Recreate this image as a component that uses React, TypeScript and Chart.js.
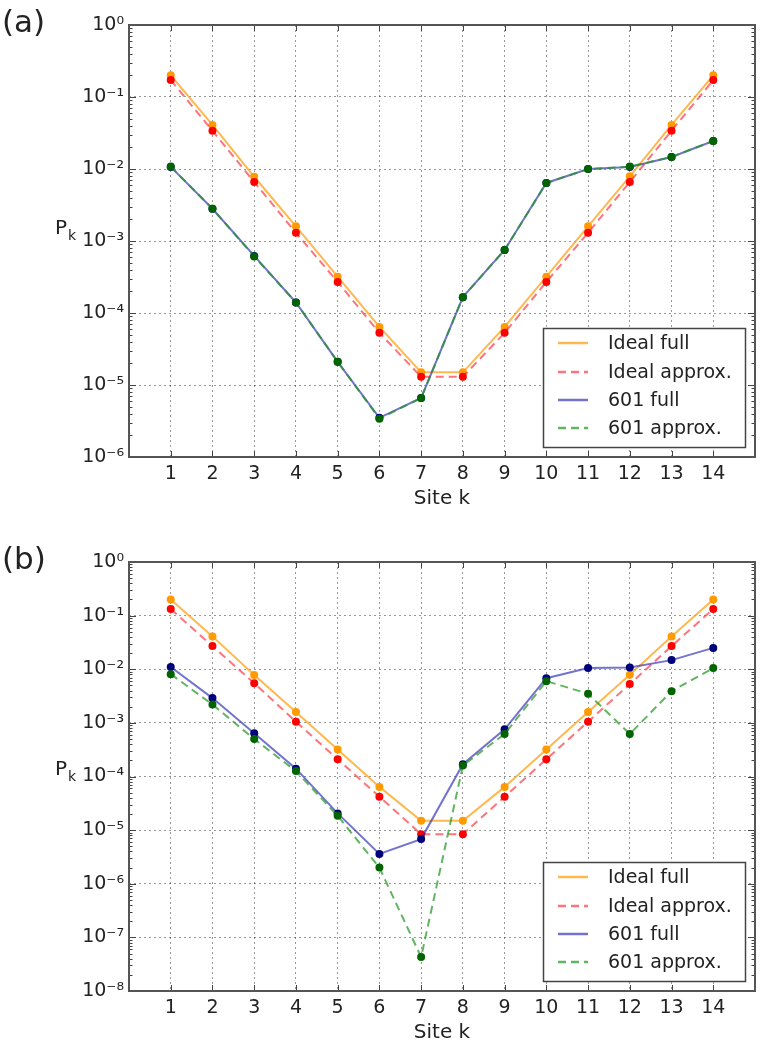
import React, { useEffect, useRef } from 'react';
import { Chart, registerables } from 'chart.js';

Chart.register(...registerables);

const FONT = "'DejaVu Sans', 'Liberation Sans', sans-serif";

// ---- data ----
const sites = [1, 2, 3, 4, 5, 6, 7, 8, 9, 10, 11, 12, 13, 14];
const xTickLabels = ['1', '2', '3', '4', '5', '6', '7', '8', '9', '10', '11', '12', '13', '14'];
const seriesNames = ['Ideal full', 'Ideal approx.', '601 full', '601 approx.'];

const yTicksA = [1e-6, 1e-5, 1e-4, 1e-3, 1e-2, 1e-1, 1];
const yTickLabelsA = ['10⁻⁶', '10⁻⁵', '10⁻⁴', '10⁻³', '10⁻²', '10⁻¹', '10⁰'];
const yTicksB = [1e-8, 1e-7, 1e-6, 1e-5, 1e-4, 1e-3, 1e-2, 1e-1, 1];
const yTickLabelsB = ['10⁻⁸', '10⁻⁷', '10⁻⁶', '10⁻⁵', '10⁻⁴', '10⁻³', '10⁻²', '10⁻¹', '10⁰'];

// panel (a)
const idealFullA = [0.2, 0.041, 0.0078, 0.0016, 3.2e-4, 6.4e-5, 1.5e-5, 1.5e-5, 6.4e-5, 3.2e-4, 1.6e-3, 7.9e-3, 0.041, 0.2];
const idealApproxA = [0.172, 0.034, 6.6e-3, 1.3e-3, 2.7e-4, 5.3e-5, 1.3e-5, 1.3e-5, 5.3e-5, 2.7e-4, 1.3e-3, 6.6e-3, 0.034, 0.172];
const chip601FullA = [0.0107, 2.8e-3, 6.2e-4, 1.4e-4, 2.1e-5, 3.5e-6, 6.6e-6, 1.66e-4, 7.5e-4, 6.4e-3, 0.01, 0.0107, 0.0147, 0.0245];
const chip601ApproxA = [0.0108, 2.8e-3, 6.1e-4, 1.4e-4, 2.1e-5, 3.4e-6, 6.6e-6, 1.66e-4, 7.5e-4, 6.4e-3, 0.01, 0.0108, 0.0147, 0.0245];

// panel (b)
const idealFullB = [0.2, 0.041, 0.0078, 0.0016, 3.2e-4, 6.4e-5, 1.5e-5, 1.5e-5, 6.4e-5, 3.2e-4, 1.6e-3, 7.9e-3, 0.041, 0.2];
const idealApproxB = [0.133, 0.027, 5.5e-3, 1.05e-3, 2.1e-4, 4.2e-5, 8.4e-6, 8.4e-6, 4.2e-5, 2.1e-4, 1.05e-3, 5.3e-3, 0.027, 0.133];
const chip601FullB = [0.011, 2.9e-3, 6.4e-4, 1.4e-4, 2.05e-5, 3.6e-6, 6.8e-6, 1.7e-4, 7.6e-4, 6.8e-3, 0.0105, 0.0108, 0.0148, 0.025];
const chip601ApproxB = [8.1e-3, 2.2e-3, 5e-4, 1.26e-4, 1.85e-5, 2e-6, 4.3e-8, 1.6e-4, 6.2e-4, 6e-3, 3.5e-3, 6.2e-4, 3.9e-3, 0.0105];

// ---- styles ----
const lineColors = ['rgba(255,160,20,0.75)', 'rgba(255,40,50,0.65)', 'rgba(40,40,180,0.65)', 'rgba(30,150,30,0.7)'];
const pointColors = ['#ff9a00', '#ff0000', '#00007a', '#006400'];
const dashes: number[][] = [[], [8, 5], [], [8, 5]];

type PanelCfg = {
  label: string;
  height: number;
  padTop: number;
  xAxisH: number;
  titlePad: number;
  yMin: number;
  yTicks: number[];
  yTickLabels: string[];
  series: number[][];
  pkBaselineOffset: number;
};

function makeDecor(cfg: PanelCfg) {
  return {
    id: 'decor' + cfg.label,
    afterDraw(chart: any) {
      const ctx: CanvasRenderingContext2D = chart.ctx;
      const { left, right, top, bottom } = chart.chartArea;
      const ys = chart.scales.y;
      const xs = chart.scales.x;
      ctx.save();
      ctx.setLineDash([]);
      ctx.strokeStyle = '#444';
      ctx.lineWidth = 1;
      // y ticks (major and minor) inward, both sides
      const minExp = Math.round(Math.log10(cfg.yMin));
      for (let e = minExp; e <= 0; e++) {
        const py = Math.round(ys.getPixelForValue(Math.pow(10, e))) + 0.5;
        ctx.beginPath();
        ctx.moveTo(left, py); ctx.lineTo(left + 7, py);
        ctx.moveTo(right, py); ctx.lineTo(right - 7, py);
        ctx.stroke();
        if (e < 0) {
          for (let m = 2; m <= 9; m++) {
            const pm = Math.round(ys.getPixelForValue(m * Math.pow(10, e))) + 0.5;
            ctx.beginPath();
            ctx.moveTo(left, pm); ctx.lineTo(left + 3.5, pm);
            ctx.moveTo(right, pm); ctx.lineTo(right - 3.5, pm);
            ctx.stroke();
          }
        }
      }
      // x ticks inward top and bottom
      for (const k of sites) {
        const px = Math.round(xs.getPixelForValue(k)) + 0.5;
        ctx.beginPath();
        ctx.moveTo(px, bottom); ctx.lineTo(px, bottom - 6);
        ctx.moveTo(px, top); ctx.lineTo(px, top + 6);
        ctx.stroke();
      }
      // frame
      ctx.strokeStyle = '#555';
      ctx.lineWidth = 2;
      ctx.strokeRect(left, top, right - left, bottom - top);

      // P_k label
      const midY = (top + bottom) / 2;
      ctx.fillStyle = '#222';
      ctx.textAlign = 'left';
      ctx.textBaseline = 'alphabetic';
      ctx.font = `20px ${FONT}`;
      ctx.fillText('P', 55, midY + cfg.pkBaselineOffset);
      ctx.font = `14px ${FONT}`;
      ctx.fillText('k', 68, midY + cfg.pkBaselineOffset + 6);

      // panel label
      ctx.font = `31px ${FONT}`;
      ctx.textBaseline = 'middle';
      ctx.fillText(cfg.label, 2, top - 1);

      // legend
      const bw = 202, bh = 119;
      const bx = right - 10 - bw;
      const by = bottom - 10 - bh;
      ctx.fillStyle = '#fff';
      ctx.fillRect(bx, by, bw, bh);
      ctx.strokeStyle = '#444';
      ctx.lineWidth = 1.5;
      ctx.strokeRect(bx + 0.5, by + 0.5, bw, bh);
      const rows = [15, 44, 72, 100];
      ctx.font = `19px ${FONT}`;
      ctx.textBaseline = 'middle';
      chart.data.datasets.forEach((ds: any, i: number) => {
        const ry = by + rows[i];
        ctx.strokeStyle = ds.borderColor;
        ctx.lineWidth = 2.5;
        ctx.setLineDash(ds.borderDash || []);
        ctx.beginPath();
        ctx.moveTo(bx + 15, ry); ctx.lineTo(bx + 45, ry);
        ctx.stroke();
        ctx.setLineDash([]);
        ctx.fillStyle = '#222';
        ctx.fillText(ds.label, bx + 65, ry + 1);
      });
      ctx.restore();
    },
  };
}

function Panel({ cfg }: { cfg: PanelCfg }) {
  const ref = useRef<HTMLCanvasElement | null>(null);
  useEffect(() => {
    if (!ref.current) return;
    const n = cfg.series.length;
    const datasets = cfg.series.map((vals, i) => ({
      label: seriesNames[i],
      data: sites.map((k, j) => ({ x: k, y: vals[j] })),
      order: n - i,
      borderColor: lineColors[i],
      borderWidth: 2,
      borderDash: dashes[i],
      pointRadius: 4,
      pointBorderWidth: 0,
      pointBackgroundColor: pointColors[i],
      pointBorderColor: pointColors[i],
      fill: false,
      tension: 0,
    }));
    const chart = new Chart(ref.current, {
      type: 'line',
      data: { datasets },
      plugins: [makeDecor(cfg)],
      options: {
        animation: false,
        responsive: false,
        devicePixelRatio: 1,
        layout: { padding: { top: cfg.padTop, right: 9, left: 0, bottom: 0 } },
        plugins: { legend: { display: false }, tooltip: { enabled: false } },
        scales: {
          x: {
            type: 'linear',
            min: 0,
            max: 15,
            afterBuildTicks: (s: any) => { s.ticks = sites.map((v) => ({ value: v })); },
            afterFit: (s: any) => { s.height = cfg.xAxisH; },
            ticks: {
              callback: (_v: any, i: number) => xTickLabels[i],
              font: { family: FONT, size: 19 },
              color: '#222',
              padding: 6,
              maxRotation: 0,
              autoSkip: false,
            },
            grid: { color: 'rgba(0,0,0,0.4)', lineWidth: 1, drawTicks: false },
            border: { display: false, dash: [2, 3] },
            title: {
              display: true,
              text: 'Site k',
              font: { family: FONT, size: 20 },
              color: '#222',
              padding: { top: 0, bottom: cfg.titlePad },
            },
          },
          y: {
            type: 'logarithmic',
            min: cfg.yMin,
            max: 1,
            afterBuildTicks: (s: any) => { s.ticks = cfg.yTicks.map((v) => ({ value: v })); },
            afterFit: (s: any) => { s.width = 129; },
            ticks: {
              callback: (_v: any, i: number) => cfg.yTickLabels[i],
              font: { family: FONT, size: 19 },
              color: '#222',
              padding: 5,
              autoSkip: false,
            },
            grid: { color: 'rgba(0,0,0,0.4)', lineWidth: 1, drawTicks: false },
            border: { display: false, dash: [2, 3] },
          },
        },
      } as any,
    });
    return () => chart.destroy();
  }, [cfg]);
  return <canvas ref={ref} width={764} height={cfg.height} style={{ display: 'block', width: 764, height: cfg.height }} />;
}

const cfgA: PanelCfg = {
  label: '(a)',
  height: 525,
  padTop: 25,
  xAxisH: 68,
  titlePad: 14,
  yMin: 1e-6,
  yTicks: yTicksA,
  yTickLabels: yTickLabelsA,
  series: [idealFullA, idealApproxA, chip601FullA, chip601ApproxA],
  pkBaselineOffset: -7,
};

const cfgB: PanelCfg = {
  label: '(b)',
  height: 524,
  padTop: 37,
  xAxisH: 58,
  titlePad: 4,
  yMin: 1e-8,
  yTicks: yTicksB,
  yTickLabels: yTickLabelsB,
  series: [idealFullB, idealApproxB, chip601FullB, chip601ApproxB],
  pkBaselineOffset: -2,
};

export default function App() {
  return (
    <div style={{ position: 'absolute', left: 0, top: 0, width: 764, height: 1049, background: '#fff' }}>
      <Panel cfg={cfgA} />
      <Panel cfg={cfgB} />
    </div>
  );
}
